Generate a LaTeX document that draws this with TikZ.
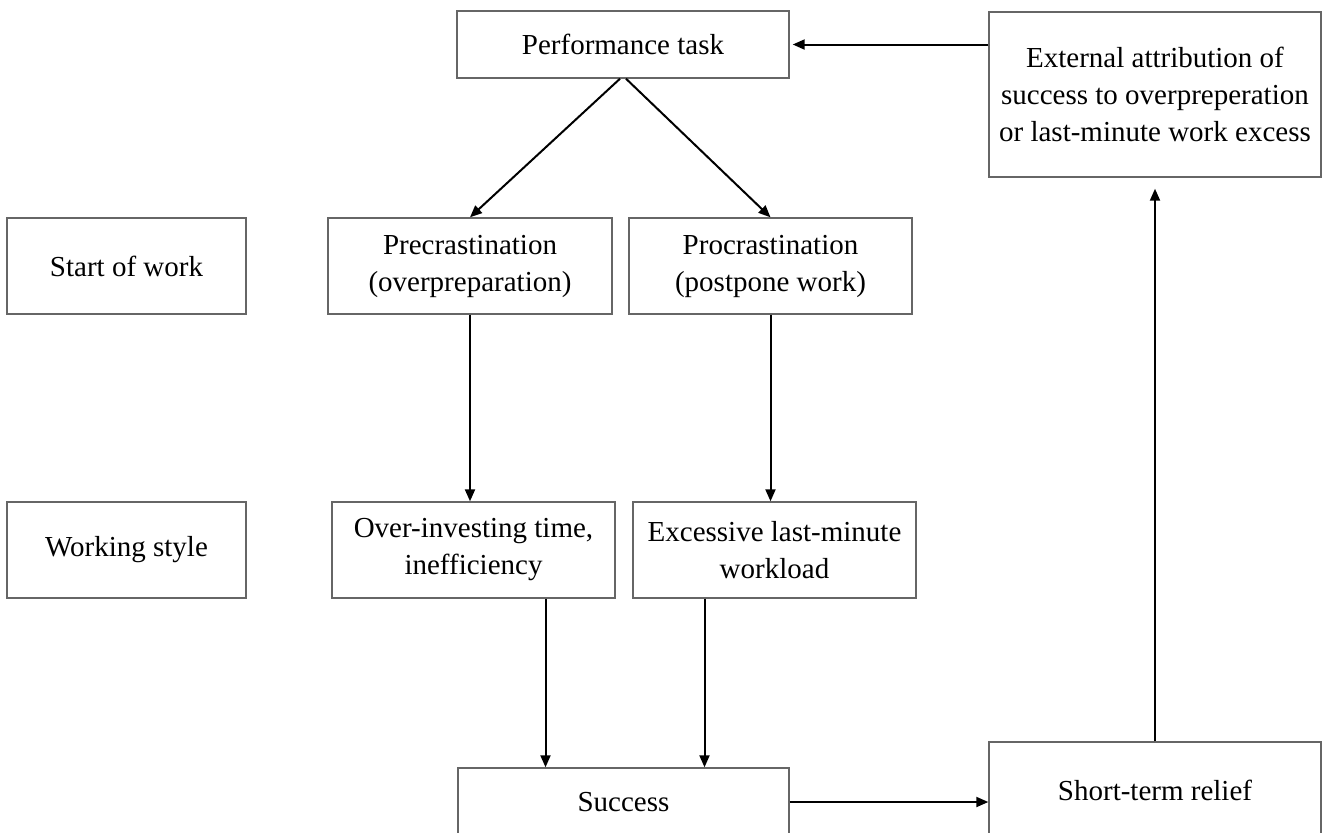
\documentclass[tikz,border=0pt]{standalone}
\usepackage{fontspec}
\setmainfont{Liberation Serif}
\usetikzlibrary{arrows.meta}

\begin{document}
\begin{tikzpicture}[x=0.5pt,y=-0.5pt,
    every node/.style={align=center, font=\fontsize{14.5}{18.5}\selectfont},
    box/.style={draw=black!60, line width=0.7pt, inner sep=0pt, minimum height=48pt},
    >={Triangle[length=6pt,width=5pt]},
]
\useasboundingbox (0,0) rectangle (1323,832);

\node[box, minimum width=166pt, minimum height=33.5pt] (task) at (623,44.5) {Performance task};
\node[box, minimum width=166pt, minimum height=82.5pt] (ext) at (1155,94.5)
  {External attribution of\\ success to overpreperation\\ or last-minute work excess};

\node[box, minimum width=119.5pt] (start) at (126.5,266) {Start of work};
\node[box, minimum width=142pt] (prec) at (470,266) {Precrastination\\ (overpreparation)};
\node[box, minimum width=141.5pt] (proc) at (770.5,266) {Procrastination\\ (postpone work)};

\node[box, minimum width=119.5pt] (wstyle) at (126.5,550) {Working style};
\node[box, minimum width=141.5pt] (over) at (473.5,550) {Over-investing time,\\ inefficiency};
\node[box, minimum width=141.5pt] (exc) at (774.5,550) {Excessive last-minute\\ workload};

\node[box, minimum width=165.5pt, minimum height=34pt] (succ) at (623.5,802) {Success};
\node[box, minimum width=166pt] (relief) at (1155,790) {Short-term relief};

\path[->, line width=1pt]
([xshift=-1.5pt]task.south) edge (prec.north)
([xshift=1.5pt]task.south) edge (proc.north)
(prec.south) edge (prec.south |- over.north)
(proc.south) edge (proc.south |- exc.north)
([xshift=36pt]over.south) edge ([xshift=36pt]over.south |- succ.north)
([xshift=-35pt]exc.south) edge ([xshift=-35pt]exc.south |- succ.north)
(succ.east) edge (succ.east -| relief.west)
(relief.north) edge[shorten >=5.5pt] (ext.south)
(task.east -| ext.west) edge[shorten >=1.5pt] (task.east)
;
\end{tikzpicture}
\end{document}
